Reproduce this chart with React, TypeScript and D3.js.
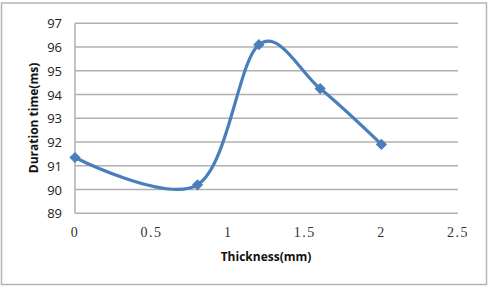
import React, { useEffect, useRef } from 'react';
import * as d3 from 'd3';

const thickness = [0, 0.8, 1.2, 1.6, 2.0];
const duration = [91.35, 90.2, 96.1, 94.25, 91.9];
const xTicks = [0, 0.5, 1, 1.5, 2, 2.5];
const yTicks = [89, 90, 91, 92, 93, 94, 95, 96, 97];

const W = 491;
const H = 287;

const App: React.FC = () => {
  const ref = useRef<SVGSVGElement | null>(null);

  useEffect(() => {
    if (!ref.current) return;
    const svg = d3.select(ref.current);
    svg.selectAll('*').remove();

    const x = d3.scaleLinear().domain([0, 2.5]).range([75, 458]);
    const y = d3.scaleLinear().domain([89, 97]).range([213.3, 23.3]);

    // outer chart border
    svg.append('rect')
      .attr('x', 1.5).attr('y', 3)
      .attr('width', 485).attr('height', 281.5)
      .attr('fill', '#fff')
      .attr('stroke', '#b4b4b4')
      .attr('stroke-width', 1.5);

    // horizontal grid lines
    svg.append('g')
      .selectAll('line')
      .data(yTicks)
      .enter().append('line')
      .attr('x1', x(0))
      .attr('x2', x(2.5))
      .attr('y1', (d: number) => y(d))
      .attr('y2', (d: number) => y(d))
      .attr('stroke', '#b0b0b0')
      .attr('stroke-width', 1.5);

    // left axis line
    svg.append('line')
      .attr('x1', x(0)).attr('x2', x(0))
      .attr('y1', y(97)).attr('y2', y(89))
      .attr('stroke', '#b0b0b0')
      .attr('stroke-width', 1.5);

    // y tick labels
    svg.append('g')
      .selectAll('text')
      .data(yTicks)
      .enter().append('text')
      .attr('x', 62)
      .attr('y', (d: number) => y(d) + 5)
      .attr('text-anchor', 'end')
      .style('font-family', '"Open Sans", "DejaVu Sans", sans-serif')
      .style('font-size', '13px')
      .attr('fill', '#222')
      .text((d: number) => d);

    // x tick labels
    svg.append('g')
      .selectAll('text')
      .data(xTicks)
      .enter().append('text')
      .attr('x', (d: number) => x(d))
      .attr('y', 237)
      .attr('text-anchor', 'middle')
      .style('font-family', '"Liberation Serif", "DejaVu Serif", serif')
      .style('font-size', '14px')
      .style('letter-spacing', '1.5px')
      .attr('fill', '#333')
      .text((d: number) => d);

    // axis titles
    svg.append('text')
      .attr('x', 266).attr('y', 261)
      .attr('text-anchor', 'middle')
      .style('font-family', '"Open Sans", "DejaVu Sans", sans-serif')
      .style('font-size', '12px')
      .style('font-weight', 'bold')
      .attr('fill', '#111')
      .text('Thickness(mm)');

    svg.append('text')
      .attr('transform', `translate(38,118) rotate(-90)`)
      .attr('text-anchor', 'middle')
      .style('font-family', '"Open Sans", "DejaVu Sans", sans-serif')
      .style('font-size', '12px')
      .style('font-weight', 'bold')
      .attr('fill', '#111')
      .text('Duration time(ms)');

    const pts: [number, number][] = thickness.map((t, i) => [t, duration[i]]);

    const line = d3.line<[number, number]>()
      .x(d => x(d[0]))
      .y(d => y(d[1]))
      .curve(d3.curveCardinal.tension(0));

    svg.append('path')
      .datum(pts)
      .attr('d', line)
      .attr('fill', 'none')
      .attr('stroke', '#4a7ebb')
      .attr('stroke-width', 3.2)
      .attr('stroke-linejoin', 'round');

    // diamond markers (rotated squares)
    svg.append('g')
      .selectAll('path')
      .data(pts)
      .enter().append('path')
      .attr('transform', (d: [number, number]) => `translate(${x(d[0])},${y(d[1])}) rotate(45)`)
      .attr('d', d3.symbol().type(d3.symbolSquare).size(48)())
      .attr('fill', '#4a7ebb')
      .attr('stroke', '#4a7ebb')
      .attr('stroke-width', 1);
  }, []);

  return (
    <svg
      ref={ref}
      width={W}
      height={H}
      style={{ position: 'absolute', left: 0, top: 0, background: '#fff' }}
    />
  );
};

export default App;
